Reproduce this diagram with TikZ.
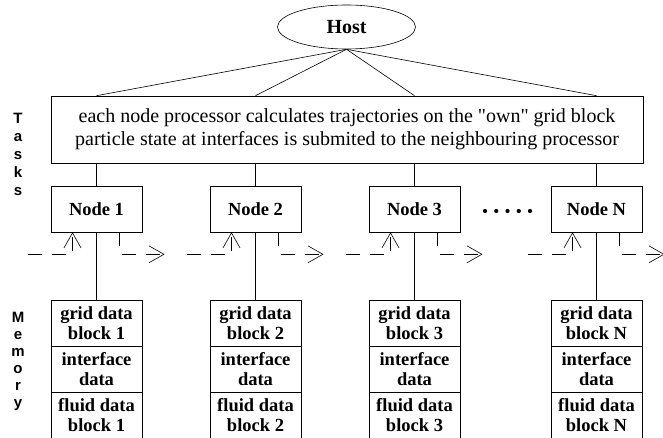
\documentclass[tikz,border=0pt]{standalone}
\usepackage{fontspec}
\setmainfont{Liberation Serif}[Ligatures=TeXOff]
\setsansfont{Liberation Sans}
\usetikzlibrary{arrows.meta, positioning, shapes.geometric}

\tikzset{
  link/.style={line width=0.6pt},
  box/.style={draw, link, minimum width=91pt, minimum height=46pt, inner sep=0pt,
    align=center, font=\fontsize{18.5}{20}\selectfont\bfseries},
  memblock/.style={box, minimum height=45.5pt},
  flow/.style={link, dash pattern=on 14pt off 10pt, -{Straight Barb[length=15pt,width=17pt]}},
  sidelabel/.style={align=center, font=\fontsize{15}{18}\selectfont\sffamily\bfseries}
}

\begin{document}
\begin{tikzpicture}[x=1pt, y=1pt]
  \useasboundingbox (0,0) rectangle (663,437);

  % Host et taches
  \node[ellipse, draw, link, minimum width=138pt, minimum height=44pt, inner sep=0pt,
    font=\fontsize{20}{22}\selectfont\bfseries] (host) at (346.5,410) {Host};
  \node[draw, link, minimum width=592pt, minimum height=67pt, align=center,
    font=\fontsize{20}{23}\selectfont] (tasks) at (347,307.5)
    {each node processor calculates trajectories on the "own" grid block\\
     particle state at interfaces is submited to the neighbouring processor};

  % Noeuds
  \node[box] (n1) at (96.5,228) {Node 1};
  \node[box] (n2) at (255.5,228) {Node 2};
  \node[box] (n3) at (414.5,228) {Node 3};
  \node[box] (nN) at (596.5,228) {Node N};
  \foreach \k in {0,...,4}
    \fill (485+11.25*\k,226) circle (2.1pt);

  % Memoire
  \node[memblock, anchor=north] (g1) at (96.5,137) {grid data\\block 1};
  \node[memblock, below=0pt of g1] (i1) {interface\\data};
  \node[memblock, below=0pt of i1] (f1) {fluid data\\block 1};
  \node[memblock, anchor=north] (g2) at (255.5,137) {grid data\\block 2};
  \node[memblock, below=0pt of g2] (i2) {interface\\data};
  \node[memblock, below=0pt of i2] (f2) {fluid data\\block 2};
  \node[memblock, anchor=north] (g3) at (414.5,137) {grid data\\block 3};
  \node[memblock, below=0pt of g3] (i3) {interface\\data};
  \node[memblock, below=0pt of i3] (f3) {fluid data\\block 3};
  \node[memblock, anchor=north] (gN) at (596.5,137) {grid data\\block N};
  \node[memblock, below=0pt of gN] (iN) {interface\\data};
  \node[memblock, below=0pt of iN] (fN) {fluid data\\block N};

  % Labels cote gauche
  \node[sidelabel] (tlabel) at (18,283) {T\\a\\s\\k\\s};
  \node[sidelabel, font=\fontsize{15}{17}\selectfont\sffamily\bfseries] (mlabel) at (18,76) {M\\e\\m\\o\\r\\y};

  % Liaisons Host -> taches -> noeuds -> memoire
  \draw[link] (host.south) -- (tasks.north -| n1);
  \draw[link] (host.south) -- (tasks.north -| n2);
  \draw[link] (host.south) -- (tasks.north -| n3);
  \draw[link] (host.south) -- (tasks.north -| nN);
  \draw[link] (tasks.south -| n1) -- (n1.north);
  \draw[link] (tasks.south -| n2) -- (n2.north);
  \draw[link] (tasks.south -| n3) -- (n3.north);
  \draw[link] (tasks.south -| nN) -- (nN.north);
  \draw[link] (n1.south) -- (g1.north);
  \draw[link] (n2.south) -- (g2.north);
  \draw[link] (n3.south) -- (g3.north);
  \draw[link] (nN.south) -- (gN.north);

  % Echanges entre voisins (pointilles)
  \coordinate (in1) at ([xshift=-69pt,yshift=-22pt]n1.south);
  \coordinate (out1) at ([xshift=68pt,yshift=-22pt]n1.south);
  \coordinate (in2) at ([xshift=-69pt,yshift=-22pt]n2.south);
  \coordinate (out2) at ([xshift=68pt,yshift=-22pt]n2.south);
  \coordinate (in3) at ([xshift=-69pt,yshift=-22pt]n3.south);
  \coordinate (out3) at ([xshift=68pt,yshift=-22pt]n3.south);
  \coordinate (inN) at ([xshift=-69pt,yshift=-22pt]nN.south);
  \coordinate (outN) at ([xshift=68pt,yshift=-22pt]nN.south);
  \draw[flow] (in1) -| ([xshift=-24pt]n1.south);
  \draw[flow] ([xshift=23pt]n1.south) |- (out1);
  \draw[flow] (in2) -| ([xshift=-24pt]n2.south);
  \draw[flow] ([xshift=23pt]n2.south) |- (out2);
  \draw[flow] (in3) -| ([xshift=-24pt]n3.south);
  \draw[flow] ([xshift=23pt]n3.south) |- (out3);
  \draw[flow] (inN) -| ([xshift=-24pt]nN.south);
  \draw[flow] ([xshift=23pt]nN.south) |- (outN);
\end{tikzpicture}
\end{document}
